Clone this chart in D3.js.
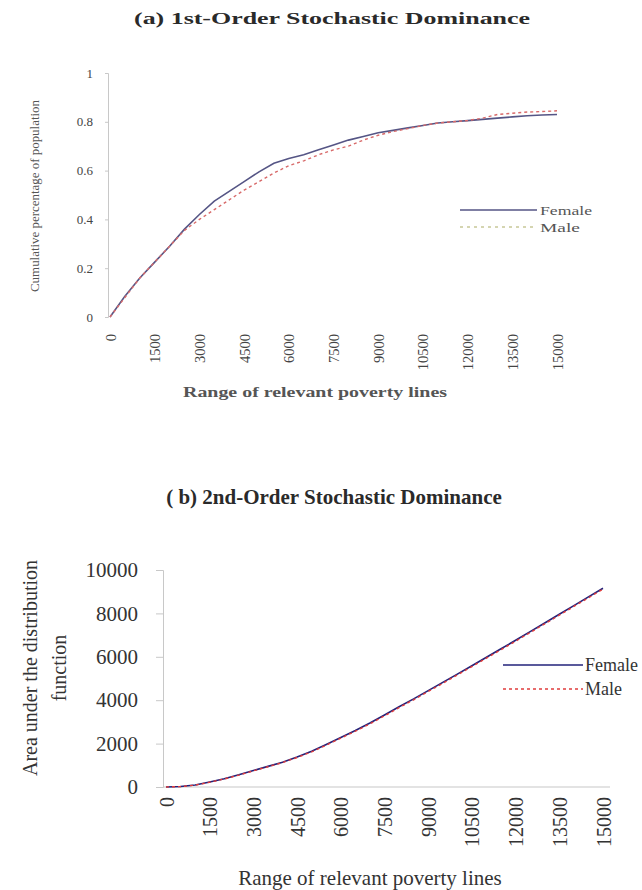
<!DOCTYPE html>
<html>
<head>
<meta charset="utf-8">
<script src="https://cdn.jsdelivr.net/npm/d3@7"></script>
<style>
  html, body { margin: 0; padding: 0; background: #fff; }
  svg { font-family: "Liberation Serif", "Times New Roman", Times, serif; }
  svg text { font-family: "Liberation Serif", "Times New Roman", Times, serif; }
</style>
</head>
<body>
<svg id="chart" width="642" height="890"></svg>
<script>
// ---------- DATA ----------
const povertyLines = [0,500,1000,1500,2000,2500,3000,3500,4000,4500,5000,5500,6000,6500,7000,7500,8000,8500,9000,9500,10000,10500,11000,11500,12000,12500,13000,13500,14000,14500,15000];
const xTickLabels = [0,1500,3000,4500,6000,7500,9000,10500,12000,13500,15000];

// (a) first-order: cumulative share of population
const femaleCDF = [0,0.085,0.16,0.225,0.29,0.36,0.42,0.475,0.515,0.555,0.595,0.63,0.65,0.665,0.685,0.705,0.725,0.74,0.755,0.765,0.775,0.785,0.795,0.80,0.805,0.81,0.815,0.82,0.825,0.828,0.83];
const maleCDF   = [0,0.08,0.16,0.225,0.29,0.355,0.40,0.44,0.48,0.52,0.555,0.59,0.62,0.64,0.665,0.685,0.70,0.725,0.745,0.76,0.772,0.785,0.795,0.80,0.805,0.815,0.83,0.835,0.84,0.842,0.845];
const yTicksA = [0,0.2,0.4,0.6,0.8,1];

// (b) second-order: area under the distribution function
const femaleArea = [0,20,90,230,380,560,760,950,1140,1380,1650,1960,2280,2600,2950,3320,3700,4060,4440,4820,5200,5590,5980,6370,6760,7160,7560,7960,8360,8760,9160];
const maleArea   = [0,20,85,220,370,545,745,935,1125,1360,1620,1930,2250,2570,2910,3280,3660,4020,4400,4780,5160,5550,5940,6330,6720,7120,7520,7920,8320,8720,9120];
const yTicksB = [0,2000,4000,6000,8000,10000];

const seriesNames = ["Female","Male"];

// ---------- DRAW ----------
const svg = d3.select("#chart");
const FONT = "Liberation Serif, Times New Roman, serif";

function fitWidth(sel, w) {
  sel.attr("textLength", w).attr("lengthAdjust", "spacingAndGlyphs");
}

// ===== Chart (a) =====
{
  const x = d3.scaleLinear().domain([0,15000]).range([110,557]);
  const y = d3.scaleLinear().domain([0,1]).range([317,73]);

  svg.append("text").attr("x",332).attr("y",24).attr("text-anchor","middle")
    .attr("font-size",16).attr("font-weight","bold").attr("fill","#2a2a2a")
    .text("(a) 1st-Order Stochastic Dominance").call(fitWidth, 396);

  // y axis
  const ya = svg.append("g").attr("transform","translate(108,0)")
    .call(d3.axisLeft(y).tickValues(yTicksA).tickSize(3).tickPadding(12).tickFormat(d=>String(d)));
  ya.attr("font-family", FONT);
  ya.select(".domain").attr("stroke","#c8c8c8");
  ya.selectAll(".tick line").attr("stroke","#c8c8c8");
  ya.selectAll(".tick text").attr("font-size",13).attr("fill","#444");

  // x tick labels (no axis line)
  const xa = svg.append("g").attr("transform","translate(0,317)")
    .call(d3.axisBottom(x).tickValues(xTickLabels).tickSize(0).tickFormat(d=>String(d)));
  xa.attr("font-family", FONT);
  xa.select(".domain").remove();
  xa.selectAll(".tick text").attr("font-size",14.5).attr("fill","#444")
    .attr("transform","rotate(-90)").attr("text-anchor","end")
    .attr("x",-17).attr("y",0).attr("dy","0.35em");

  svg.append("text").attr("x",315).attr("y",397).attr("text-anchor","middle")
    .attr("font-size",14).attr("font-weight","bold").attr("fill","#555")
    .text("Range of relevant poverty lines").call(fitWidth, 264);

  svg.append("text").attr("transform","translate(39,196) rotate(-90)").attr("text-anchor","middle")
    .attr("font-size",13).attr("fill","#555")
    .text("Cumulative percentage of population").call(fitWidth, 192);

  const line = d3.line().x((d,i)=>x(povertyLines[i])).y(d=>y(d));
  svg.append("path").datum(femaleCDF).attr("d",line).attr("fill","none")
    .attr("stroke","#555585").attr("stroke-width",1.6);
  svg.append("path").datum(maleCDF).attr("d",line).attr("fill","none")
    .attr("stroke","#d86a6a").attr("stroke-width",1.4).attr("stroke-dasharray","3,3");

  // legend
  const items = [
    {name:seriesNames[0], c:"#555585", dash:null, y:210, w:52},
    {name:seriesNames[1], c:"#c8c898", dash:"3,4", y:227, w:40}
  ];
  items.forEach(it=>{
    svg.append("line").attr("x1",460).attr("x2",537).attr("y1",it.y).attr("y2",it.y)
      .attr("stroke",it.c).attr("stroke-width",1.6).attr("stroke-dasharray",it.dash);
    svg.append("text").attr("x",540).attr("y",it.y).attr("dy","0.35em")
      .attr("font-size",13).attr("fill","#555").text(it.name).call(fitWidth, it.w);
  });
}

// ===== Chart (b) =====
{
  const x = d3.scaleLinear().domain([0,15000]).range([166,603]);
  const y = d3.scaleLinear().domain([0,10000]).range([787,570]);

  svg.append("text").attr("x",334).attr("y",504).attr("text-anchor","middle")
    .attr("font-size",21).attr("font-weight","bold").attr("fill","#2a2a2a")
    .text("( b) 2nd-Order Stochastic Dominance");

  const ya = svg.append("g").attr("transform","translate(163,0)")
    .call(d3.axisLeft(y).tickValues(yTicksB).tickSize(7).tickPadding(18).tickFormat(d=>String(d)));
  ya.attr("font-family", FONT);
  ya.select(".domain").attr("stroke","#c8c8c8");
  ya.selectAll(".tick line").attr("stroke","#c8c8c8");
  ya.selectAll(".tick text").attr("font-size",21).attr("fill","#333");

  // x axis line
  svg.append("line").attr("x1",163).attr("x2",610).attr("y1",787).attr("y2",787)
    .attr("stroke","#c8c8c8").attr("stroke-width",1.2);

  const xa = svg.append("g").attr("transform","translate(0,787)")
    .call(d3.axisBottom(x).tickValues(xTickLabels).tickSize(0).tickFormat(d=>String(d)));
  xa.attr("font-family", FONT);
  xa.select(".domain").remove();
  xa.selectAll(".tick text").attr("font-size",20).attr("fill","#333")
    .attr("transform","rotate(-90)").attr("text-anchor","end")
    .attr("x",-10).attr("y",0).attr("dy","0.35em");

  svg.append("text").attr("x",370).attr("y",885).attr("text-anchor","middle")
    .attr("font-size",21).attr("fill","#333")
    .text("Range of relevant poverty lines");

  svg.append("text").attr("transform","translate(37,668) rotate(-90)").attr("text-anchor","middle")
    .attr("font-size",20).attr("fill","#333").text("Area under the distribution");
  svg.append("text").attr("transform","translate(66,668) rotate(-90)").attr("text-anchor","middle")
    .attr("font-size",20).attr("fill","#333").text("function");

  const line = d3.line().x((d,i)=>x(povertyLines[i])).y(d=>y(d));
  svg.append("path").datum(femaleArea).attr("d",line).attr("fill","none")
    .attr("stroke","#22227a").attr("stroke-width",1.6);
  svg.append("path").datum(maleArea).attr("d",line).attr("fill","none")
    .attr("stroke","#e03c3c").attr("stroke-width",1.4).attr("stroke-dasharray","3,3");

  const items = [{name:seriesNames[0], c:"#22227a", dash:null, y:665},{name:seriesNames[1], c:"#e03c3c", dash:"3,3", y:689}];
  items.forEach(it=>{
    svg.append("line").attr("x1",503).attr("x2",583).attr("y1",it.y).attr("y2",it.y)
      .attr("stroke",it.c).attr("stroke-width",1.4).attr("stroke-dasharray",it.dash);
    svg.append("text").attr("x",585).attr("y",it.y).attr("dy","0.35em")
      .attr("font-size",18).attr("fill","#333").text(it.name);
  });
}
</script>
</body>
</html>
